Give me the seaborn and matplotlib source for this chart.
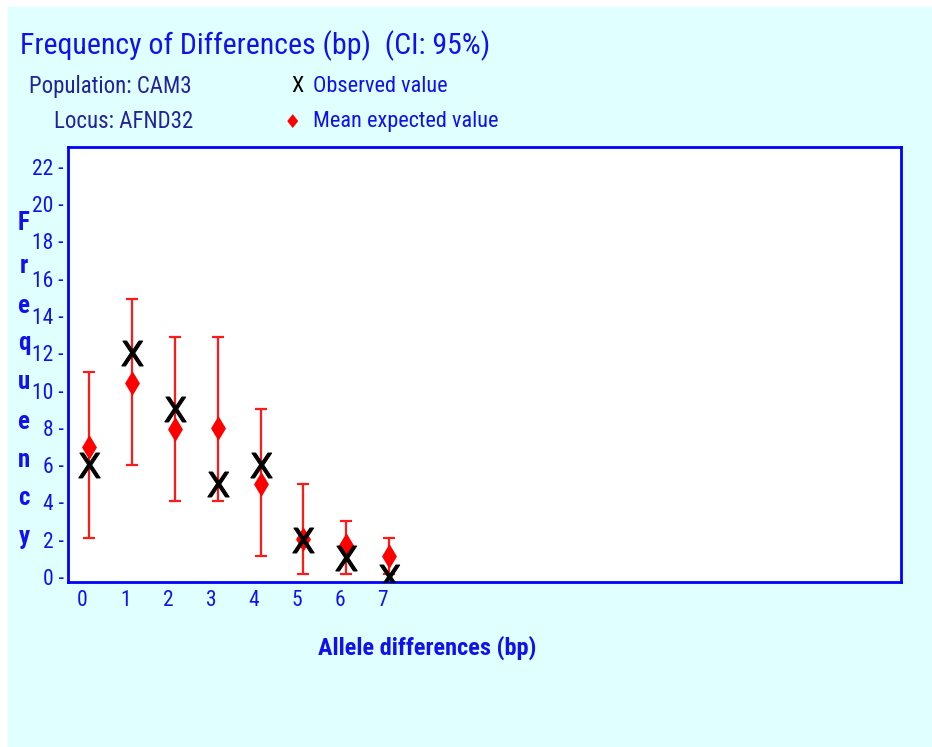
import numpy as np
import matplotlib
matplotlib.use("Agg")
import matplotlib.pyplot as plt
from matplotlib.patches import Rectangle
import seaborn as sns

# === Data === #
allele_diff = [0, 1, 2, 3, 4, 5, 6, 7]
observed = [6, 12, 9, 5, 6, 2, 1, 0]
expected_mean = [7.0, 10.4, 7.95, 8.0, 5.0, 2.05, 1.7, 1.15]
ci_upper = [11.0, 14.9, 12.9, 12.9, 9.0, 5.0, 3.0, 2.1]
ci_lower = [2.1, 6.0, 4.1, 4.1, 1.1, 0.15, 0.15, 0.15]
y_ticks = list(range(0, 23, 2))

# === Style === #
W, H = 932, 747
BLUE = "#1010f0"
NAVY = "#22229a"
BG = "#e0ffff"
sns.set_style("white")
plt.rcParams["font.family"] = ["Roboto Condensed", "Archivo Narrow", "PT Sans Narrow",
                               "IBM Plex Sans Condensed", "Liberation Sans", "DejaVu Sans"]


def px(x, y):
    # pixel position (from top-left) -> figure fraction
    return x / W, 1 - y / H


fig = plt.figure(figsize=(W / 100, H / 100), dpi=100, facecolor="white")
fig.patches.append(Rectangle((8 / W, 0), 1 - 8 / W, 1 - 7 / H,
                             transform=fig.transFigure, color=BG, zorder=-10))

ax = fig.add_axes([68 / W, 1 - 582 / H, (901 - 68) / W, (582 - 147) / H])
ax.set_facecolor("white")

lo = np.array(expected_mean) - np.array(ci_lower)
hi = np.array(ci_upper) - np.array(expected_mean)
ax.errorbar(allele_diff, expected_mean, yerr=[lo, hi], fmt="none",
            ecolor="#ff1a1a", elinewidth=1.6, capsize=4.5, capthick=1.6, zorder=2)
sns.scatterplot(x=allele_diff, y=expected_mean, ax=ax, marker="d", s=160,
                color="#ff0000", edgecolor="#ff0000", linewidth=0, zorder=3)
sns.scatterplot(x=allele_diff, y=observed, ax=ax, marker=r"$\mathsf{X}$", s=320,
                color="black", edgecolor="black", linewidth=0.8, zorder=4)

ax.set_xlim(-0.49, 18.93)
ax.set_ylim(-0.27, 23.07)
ax.set_yticks(y_ticks)
ax.set_yticklabels([f"{v} -" for v in y_ticks], color=BLUE, fontsize=15.5)
ax.set_xticks(np.array(allele_diff) - 0.15)
ax.set_xticklabels([str(v) for v in allele_diff], color=BLUE, fontsize=15.5)
ax.tick_params(axis="y", length=0, pad=3)
ax.tick_params(axis="x", length=0, pad=6)
for s in ax.spines.values():
    s.set_color("#0000ff")
    s.set_linewidth(2)
ax.grid(False)

# === Labels === #
fig.text(*px(20, 46), "Frequency of Differences (bp)  (CI: 95%)", color=BLUE,
         fontsize=21.5, va="center", ha="left")
fig.text(*px(192, 86), "Population: CAM3", color=NAVY, fontsize=16.5, va="center", ha="right")
fig.text(*px(193, 121), "Locus: AFND32", color=NAVY, fontsize=16.5, va="center", ha="right")
fig.text(*px(297, 86), "X", color="black", fontsize=16, va="center", ha="center")
fig.text(*px(313, 86), "Observed value", color=BLUE, fontsize=16, va="center", ha="left")
fig.text(*px(292, 122), "\u2666", color="#ff0000", fontsize=14, va="center", ha="center",
         family=["DejaVu Sans"])
fig.text(*px(313, 121), "Mean expected value", color=BLUE, fontsize=16, va="center", ha="left")

fig.text(*px(427, 648), "Allele differences (bp)", color=BLUE, fontsize=17.5,
         fontweight="bold", va="center", ha="center")
ylabel_y = [223, 266, 306, 343, 382, 422, 460, 498, 537]
for ch, yy in zip("Frequency", ylabel_y):
    fig.text(*px(24, yy), ch, color=BLUE, fontsize=18, fontweight="bold",
             va="center", ha="center")

plt.savefig("out.png", dpi=100, facecolor=fig.get_facecolor())
